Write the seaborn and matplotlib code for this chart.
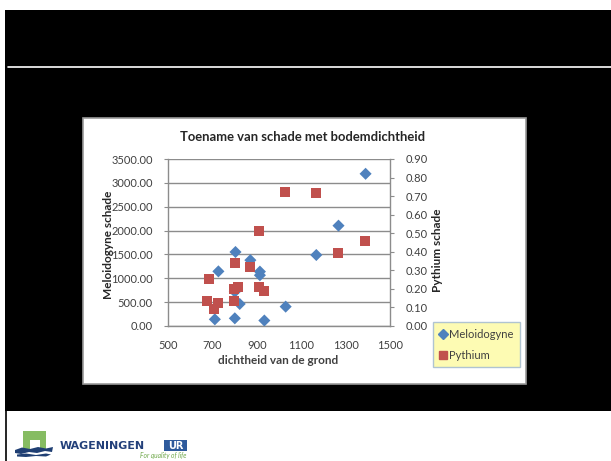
import matplotlib
matplotlib.use("Agg")
import matplotlib.pyplot as plt
from matplotlib.patches import Rectangle, Polygon
from matplotlib.lines import Line2D
from matplotlib.ticker import FormatStrFormatter, MultipleLocator
import seaborn as sns
import pandas as pd

sns.set_theme(style="white")
plt.rcParams["font.family"] = ["Lato", "DejaVu Sans"]

# soil density vs. damage, two organisms
melo_density = [1390, 1268, 1168, 804, 727, 871, 914, 914, 801, 823, 1030, 711, 801, 934]
melo_damage = [3190, 2103, 1488, 1551, 1145, 1380, 1140, 1064, 717, 462, 406, 140, 161, 115]

pyth_density = [1027, 1168, 910, 1388, 1267, 802, 870, 683, 817, 799, 910, 931, 674, 725, 709, 799]
pyth_damage = [0.723, 0.718, 0.510, 0.459, 0.396, 0.337, 0.316, 0.252, 0.212, 0.201,
               0.212, 0.188, 0.133, 0.123, 0.089, 0.133]

x_ticks = [500, 700, 900, 1100, 1300, 1500]

title = "Toename van schade met bodemdichtheid"
xlabel = "dichtheid van de grond"
ylabel_left = "Meloidogyne schade"
ylabel_right = "Pythium schade"
series_names = ["Meloidogyne", "Pythium"]

W, H = 611, 461
BLUE = "#4F81BD"
RED = "#C0504D"
GRID = "#8C8C8C"

fig = plt.figure(figsize=(W / 100, H / 100), dpi=100)
fig.patch.set_facecolor("white")


def box(x, y, w, h):
    return [x / W, 1 - (y + h) / H, w / W, h / H]


# slide background
bg = fig.add_axes([0, 0, 1, 1])
bg.set_xlim(0, W)
bg.set_ylim(H, 0)
bg.axis("off")
bg.add_patch(Rectangle((5, 10), W - 5, 401, facecolor="black", edgecolor="none"))
bg.plot([8, W], [67, 67], color="white", lw=1.2)
bg.plot([5.5, 5.5], [411, H], color="black", lw=1.2)
# chart frame
bg.add_patch(Rectangle((83, 118), 443, 266, facecolor="white", edgecolor="#9A9A9A", lw=1.2))

# footer logo
bg.add_patch(Rectangle((23, 431), 23, 18, facecolor="#86BC62", edgecolor="none"))
bg.add_patch(Rectangle((29.5, 439.5), 10, 10, facecolor="white", edgecolor="none"))
bg.add_patch(Polygon([(15, 450), (22, 447.5), (30, 449), (38, 447), (46, 448.5), (53, 447),
                      (52, 452), (45, 451), (37, 453), (29, 452), (21, 454), (15, 453)],
                     closed=True, facecolor="#1F3F73", edgecolor="none"))
bg.add_patch(Polygon([(17, 454.5), (26, 453.5), (36, 455), (46, 453.5), (51, 454.5),
                      (46, 456.5), (36, 456), (26, 457), (17, 456.5)],
                     closed=True, facecolor="#1F3F73", edgecolor="none"))
bg.text(60, 445.5, "WAGENINGEN", color="#23407A", fontsize=7.9, fontweight="bold",
        family=["DejaVu Sans"], va="center", ha="left")
bg.add_patch(Rectangle((164, 439.5), 23, 11.5, facecolor="#2E5A9C", edgecolor="none"))
bg.text(175.5, 445.5, "UR", color="white", fontsize=7, fontweight="bold",
        family=["DejaVu Sans"], va="center", ha="center")
bg.text(186, 455.5, "For quality of life", color="#6FA84A", fontsize=4.8, style="italic",
        va="center", ha="right")

# plot area
ax = fig.add_axes(box(168, 159, 222, 167))
ax.set_facecolor("none")
df_m = pd.DataFrame({"dichtheid": melo_density, "schade": melo_damage})
sns.scatterplot(data=df_m, x="dichtheid", y="schade", ax=ax, marker="D", color=BLUE,
                s=38, edgecolor="none", legend=False, zorder=3)
ax.set_xlim(500, 1500)
ax.set_ylim(0, 3500)
ax.set_xticks(x_ticks)
ax.set_xticklabels([str(t) for t in x_ticks])
ax.yaxis.set_major_locator(MultipleLocator(500))
ax.yaxis.set_major_formatter(FormatStrFormatter("%.2f"))
ax.yaxis.grid(True, color=GRID, lw=1.0)
ax.xaxis.grid(False)
ax.set_axisbelow(True)
for s in ["left", "bottom"]:
    ax.spines[s].set_color(GRID)
    ax.spines[s].set_linewidth(1.0)
ax.spines["top"].set_visible(False)
ax.spines["right"].set_visible(False)
ax.tick_params(axis="both", which="major", labelsize=8, colors="#404040",
               direction="out", length=3, width=0.8, color=GRID, pad=8)
ax.tick_params(axis="x", pad=7)
ax.set_xlabel("")
ax.set_ylabel("")

ax2 = ax.twinx()
df_p = pd.DataFrame({"dichtheid": pyth_density, "schade": pyth_damage})
sns.scatterplot(data=df_p, x="dichtheid", y="schade", ax=ax2, marker="s", color=RED,
                s=52, edgecolor="none", legend=False, zorder=4)
ax2.set_ylim(0, 0.9)
ax2.yaxis.set_major_locator(MultipleLocator(0.1))
ax2.yaxis.set_major_formatter(FormatStrFormatter("%.2f"))
for s in ["left", "top", "bottom"]:
    ax2.spines[s].set_visible(False)
ax2.spines["right"].set_color(GRID)
ax2.spines["right"].set_linewidth(1.0)
ax2.tick_params(axis="y", labelsize=8, colors="#404040", direction="out", length=3,
                width=0.8, color=GRID, pad=8)
ax2.set_ylabel("")
ax2.grid(False)

# titles and axis captions
fig.text(303 / W, 1 - 137 / H, title, fontsize=9.4, fontweight="bold", color="#262626",
         ha="center", va="center")
fig.text(278 / W, 1 - 361 / H, xlabel, fontsize=8.5, fontweight="bold", color="#404040",
         ha="center", va="center")
fig.text(108 / W, 1 - 245 / H, ylabel_left, fontsize=8.5, fontweight="bold", color="#262626",
         ha="center", va="center", rotation=90)
fig.text(438 / W, 1 - 250 / H, ylabel_right, fontsize=8.5, fontweight="bold", color="#262626",
         ha="center", va="center", rotation=90)

# legend
handles = [Line2D([], [], marker="D", color=BLUE, ls="none", markersize=5),
           Line2D([], [], marker="s", color=RED, ls="none", markersize=6)]
leg = fig.legend(handles, series_names, loc="upper left",
                 bbox_to_anchor=(433 / W, 1 - 322 / H), bbox_transform=fig.transFigure,
                 fontsize=8, frameon=True, fancybox=False, handlelength=0.6,
                 handletextpad=0.2, borderpad=0.6, labelspacing=0.9, borderaxespad=0)
leg.get_frame().set_facecolor("#FDFAA0")
leg.get_frame().set_edgecolor("#9DB6CF")
leg.get_frame().set_linewidth(1.0)
for t in leg.get_texts():
    t.set_color("#404040")

fig.savefig("out.png", dpi=100)
